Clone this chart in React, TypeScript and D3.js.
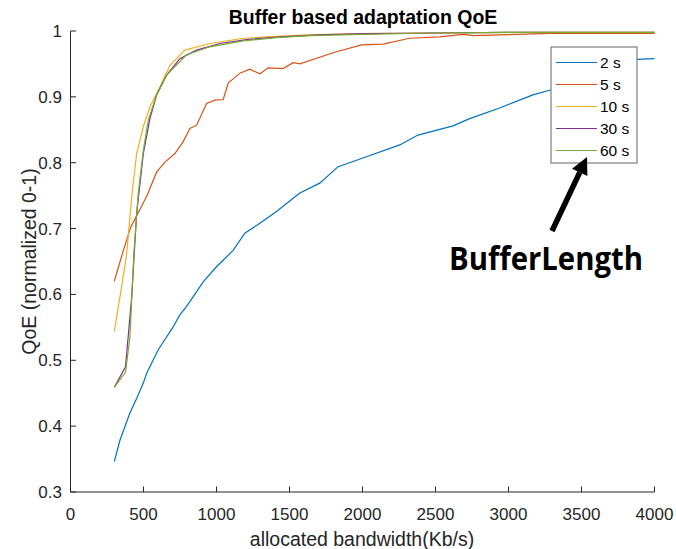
import React from "react";
import * as d3 from "d3";

const xTicks = [0, 500, 1000, 1500, 2000, 2500, 3000, 3500, 4000];
const yTicks = [0.3, 0.4, 0.5, 0.6, 0.7, 0.8, 0.9, 1];
const yTickLabels = ["0.3", "0.4", "0.5", "0.6", "0.7", "0.8", "0.9", "1"];

const seriesNames = ["2 s", "5 s", "10 s", "30 s", "60 s"];
const seriesColors = ["#0072BD", "#D95319", "#EDB120", "#7E2F8E", "#77AC30"];

const bw2 = [300, 339, 407, 453, 498, 521, 601, 704, 749, 795, 909, 1000, 1114, 1194, 1297, 1411, 1525, 1571, 1707, 1833, 2027, 2255, 2380, 2620, 2734, 2939, 3167, 3281, 3450, 3650, 3875, 4000];
const qoe2 = [0.346, 0.379, 0.42, 0.442, 0.465, 0.48, 0.516, 0.551, 0.569, 0.582, 0.619, 0.642, 0.667, 0.693, 0.708, 0.726, 0.746, 0.754, 0.769, 0.794, 0.809, 0.827, 0.842, 0.856, 0.867, 0.883, 0.903, 0.91, 0.925, 0.94, 0.957, 0.958];

const bw5 = [300, 362, 414, 464, 526, 590, 647, 715, 772, 818, 864, 932, 989, 1046, 1080, 1160, 1228, 1297, 1354, 1456, 1525, 1571, 1799, 1993, 2141, 2323, 2529, 2688, 2757, 2939, 3281, 4000];
const qoe5 = [0.62, 0.667, 0.703, 0.724, 0.751, 0.786, 0.801, 0.814, 0.832, 0.852, 0.857, 0.89, 0.895, 0.896, 0.921, 0.936, 0.942, 0.935, 0.944, 0.943, 0.952, 0.95, 0.967, 0.979, 0.98, 0.989, 0.991, 0.995, 0.993, 0.994, 0.9965, 0.9965];

const bw10 = [300, 350, 385, 419, 453, 499, 544, 612, 681, 784, 955, 1183, 1411, 1639, 2000, 2500, 3000, 4000];
const qoe10 = [0.544, 0.611, 0.662, 0.748, 0.814, 0.855, 0.885, 0.915, 0.948, 0.971, 0.981, 0.989, 0.992, 0.994, 0.996, 0.997, 0.998, 0.998];

const bw30 = [300, 377, 419, 453, 499, 544, 590, 658, 749, 863, 1023, 1206, 1434, 1700, 2000, 2500, 3000, 4000];
const qoe30 = [0.459, 0.49, 0.596, 0.723, 0.814, 0.867, 0.903, 0.933, 0.958, 0.971, 0.981, 0.987, 0.991, 0.994, 0.996, 0.997, 0.998, 0.998];

const bw60 = [300, 377, 407, 434, 464, 499, 533, 590, 658, 795, 955, 1183, 1411, 1639, 2000, 2500, 3000, 4000];
const qoe60 = [0.459, 0.482, 0.535, 0.662, 0.753, 0.819, 0.865, 0.903, 0.933, 0.964, 0.976, 0.985, 0.99, 0.993, 0.995, 0.997, 0.998, 0.998];

const seriesX = [bw2, bw5, bw10, bw30, bw60];
const seriesY = [qoe2, qoe5, qoe10, qoe30, qoe60];

const W = 676;
const H = 549;
const L = 70.5;
const R = 654.5;
const T = 31;
const B = 492;
const AX = "#262626";
const FONT = "'Liberation Sans', Arial, Helvetica, sans-serif";

export default function App() {
  const x = d3.scaleLinear().domain([0, 4000]).range([L, R]);
  const y = d3.scaleLinear().domain([0.3, 1]).range([B, T]);
  const line = d3
    .line<[number, number]>()
    .x((d) => x(d[0]))
    .y((d) => y(d[1]));

  const paths = seriesX.map((xs, i) =>
    line(xs.map((v, j) => [v, seriesY[i][j]] as [number, number]))
  );

  // legend
  const lgX0 = 551, lgY0 = 47, lgW = 86, lgH = 116;
  const rowY0 = 62.5, rowStep = 22;

  // arrow annotation
  const tail = [552, 231];
  const tip = [587, 157];
  const dx = tip[0] - tail[0], dy = tip[1] - tail[1];
  const len = Math.hypot(dx, dy);
  const ux = dx / len, uy = dy / len;
  const headL = 17, headW = 8.5;
  const bx = tip[0] - ux * headL, by = tip[1] - uy * headL;
  const px = -uy, py = ux;
  const head = `${tip[0]},${tip[1]} ${bx + px * headW},${by + py * headW} ${bx - px * headW},${by - py * headW}`;

  return (
    <svg
      width={W}
      height={H}
      style={{ position: "absolute", left: 0, top: 0, background: "#fff" }}
    >
      <rect x={0} y={0} width={W} height={H} fill="#fff" />
      {/* title */}
      <text x={363} y={24} textAnchor="middle" fontFamily={FONT} fontWeight="bold" fontSize={19.5} fill="#000">
        Buffer based adaptation QoE
      </text>

      {/* series */}
      {paths.map((p, i) => (
        <path key={i} d={p || ""} fill="none" stroke={seriesColors[i]} strokeWidth={1.2} />
      ))}

      {/* axes */}
      <line x1={L} x2={L} y1={T} y2={B} stroke={AX} strokeWidth={1} />
      <line x1={L} x2={R} y1={B} y2={B} stroke={AX} strokeWidth={1} />
      {xTicks.map((t) => (
        <g key={"x" + t}>
          <line x1={x(t)} x2={x(t)} y1={B} y2={B - 5.5} stroke={AX} strokeWidth={1} />
          <text x={x(t)} y={520} textAnchor="middle" fontFamily={FONT} fontSize={17} fill={AX}>
            {t}
          </text>
        </g>
      ))}
      {yTicks.map((t, i) => (
        <g key={"y" + t}>
          <line x1={L} x2={L + 5.5} y1={y(t)} y2={y(t)} stroke={AX} strokeWidth={1} />
          <text x={62} y={y(t) + 6} textAnchor="end" fontFamily={FONT} fontSize={17} fill={AX}>
            {yTickLabels[i]}
          </text>
        </g>
      ))}
      <text x={362} y={546} textAnchor="middle" fontFamily={FONT} fontSize={19.5} fill={AX}>
        allocated bandwidth(Kb/s)
      </text>
      <text
        transform={`translate(36,${(T + B) / 2}) rotate(-90)`}
        textAnchor="middle"
        fontFamily={FONT}
        fontSize={19.5}
        fill={AX}
      >
        QoE (normalized 0-1)
      </text>

      {/* legend */}
      <rect x={lgX0} y={lgY0} width={lgW} height={lgH} fill="#fff" stroke="#7f7f7f" strokeWidth={1.2} />
      {seriesNames.map((n, i) => (
        <g key={n}>
          <line
            x1={556}
            x2={597}
            y1={rowY0 + i * rowStep}
            y2={rowY0 + i * rowStep}
            stroke={seriesColors[i]}
            strokeWidth={1.2}
          />
          <text x={600} y={rowY0 + i * rowStep + 5.5} fontFamily={FONT} fontSize={15.5} fill="#000">
            {n}
          </text>
        </g>
      ))}

      {/* annotation */}
      <line x1={tail[0]} y1={tail[1]} x2={bx} y2={by} stroke="#000" strokeWidth={5.5} />
      <polygon points={head} fill="#000" />
      <text
        x={449}
        y={270}
        fontFamily="'Open Sans', 'Noto Sans', sans-serif"
        fontWeight="bold"
        fontSize={32}
        textLength={194}
        lengthAdjust="spacingAndGlyphs"
        fill="#000"
      >
        BufferLength
      </text>
    </svg>
  );
}
